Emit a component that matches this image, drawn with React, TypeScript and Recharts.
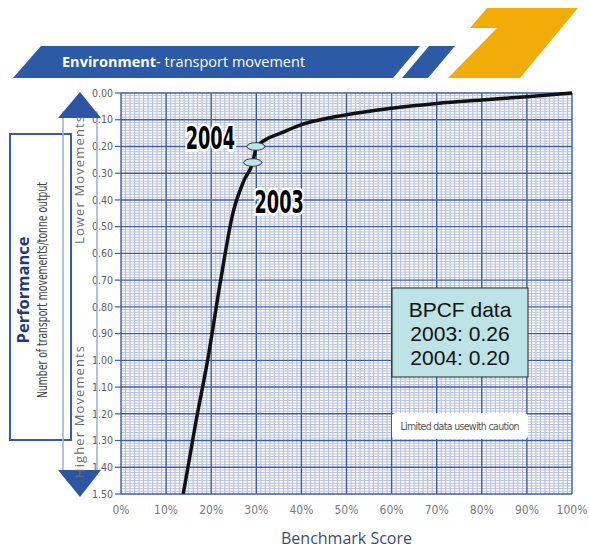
import {
  CartesianGrid,
  ComposedChart,
  Label,
  LabelList,
  Line,
  ReferenceLine,
  Scatter,
  XAxis,
  YAxis,
} from "recharts";

// benchmark curve
const CURVE_SCORE = [13.8, 16.5, 19.2, 22.1, 24.8, 27.2, 29.2, 29.9, 30.8, 32.3, 35.4, 40, 45, 50, 60, 70, 80, 90, 100];
const CURVE_MOVES = [1.5, 1.24, 1.0, 0.7, 0.45, 0.33, 0.26, 0.21, 0.19, 0.172, 0.15, 0.118, 0.097, 0.081, 0.057, 0.039, 0.026, 0.014, 0.0];

// BPCF markers
const MARKER_YEARS = ["2004", "2003"];
const MARKER_SCORE = [29.9, 29.2];
const MARKER_MOVES = [0.2, 0.26];

const X_TICKS = [0, 10, 20, 30, 40, 50, 60, 70, 80, 90, 100];
const Y_TICKS = [0, 0.1, 0.2, 0.3, 0.4, 0.5, 0.6, 0.7, 0.8, 0.9, 1.0, 1.1, 1.2, 1.3, 1.4, 1.5];
// graph paper: 1% columns, 0.01 rows
const MINOR_X = Array.from({ length: 99 }, (_, i) => i + 1).filter((v) => v % 10 !== 0);
const MINOR_Y = Array.from({ length: 149 }, (_, i) => (i + 1) / 100).filter((_, i) => (i + 1) % 10 !== 0);

const BOX_LINES = ["BPCF data", "2003: 0.26", "2004: 0.20"];

const curve = CURVE_SCORE.map((x, i) => ({ x, y: CURVE_MOVES[i] }));
const markers = MARKER_YEARS.map((year, i) => ({ year, x: MARKER_SCORE[i], y: MARKER_MOVES[i] }));

const MAJOR = "#3a5ca8";
const NARROW = "'Liberation Sans Narrow', 'DejaVu Sans Condensed', sans-serif";

const Ellipse = (props: any) => (
  <ellipse cx={props.cx} cy={props.cy} rx={9} ry={3.8} fill="#bfe5ea" stroke="#1d2a3a" strokeWidth={0.9} />
);

const YearLabel = (props: any) => {
  const { x, y, value, index } = props;
  // 2004 sits to the upper left of its marker, 2003 below right
  const dx = index === 0 ? -41 : 31;
  const dy = index === 0 ? -4 : 44;
  return (
    <text
      transform={`translate(${x + dx},${y + dy}) scale(0.82,1.35)`}
      textAnchor="middle"
      dominantBaseline="central"
      fontFamily={NARROW}
      fontWeight={700}
      fontSize={24}
      fill="#000"
      stroke="#fff"
      strokeWidth={4}
      paintOrder="stroke"
    >
      {value}
    </text>
  );
};

export default function App() {
  return (
    <div style={{ position: "absolute", left: 0, top: 0, width: 589, height: 550, background: "#fff" }}>
      <ComposedChart width={589} height={550} data={curve} margin={{ top: 93, right: 17, bottom: 0, left: 70 }}>
        {MINOR_X.map((v) => (
          <ReferenceLine key={`mx${v}`} x={v} stroke="#b0bbdd" strokeWidth={1} zIndex={-150} />
        ))}
        {MINOR_Y.map((v) => (
          <ReferenceLine key={`my${v}`} y={v} stroke="#bac1d9" strokeWidth={1} zIndex={-150} />
        ))}
        <CartesianGrid stroke={MAJOR} strokeWidth={1.4} />
        <XAxis
          dataKey="x"
          type="number"
          domain={[0, 100]}
          ticks={X_TICKS}
          interval={0}
          tickFormatter={(v) => `${v}%`}
          tickLine={false}
          axisLine={false}
          tickMargin={5}
          height={56}
          tick={{ fill: "#7a7a7a", fontSize: 12, fontFamily: NARROW }}
        >
          <Label
            content={({ viewBox }: any) => (
              <text
                x={viewBox.x + viewBox.width / 2}
                y={viewBox.y + 50}
                textAnchor="middle"
                fontFamily="'Open Sans', sans-serif"
                fontSize={16}
                fill="#3b4b7c"
              >
                Benchmark Score
              </text>
            )}
          />
        </XAxis>
        <YAxis
          dataKey="y"
          type="number"
          domain={[0, 1.5]}
          ticks={Y_TICKS}
          interval={0}
          reversed
          width={51}
          tickFormatter={(v) => v.toFixed(2)}
          tickSize={6}
          tickMargin={2}
          tickLine={{ stroke: MAJOR, strokeWidth: 1.2 }}
          axisLine={false}
          tick={{ fill: "#606060", fontSize: 10.5, fontFamily: NARROW }}
        />
        <Line
          type="monotone"
          dataKey="y"
          stroke="#111"
          strokeWidth={3.5}
          dot={false}
          isAnimationActive={false}
        />
        <Scatter data={markers} dataKey="y" shape={Ellipse} isAnimationActive={false}>
          <LabelList dataKey="year" content={YearLabel} />
        </Scatter>
      </ComposedChart>

      <svg width={589} height={550} style={{ position: "absolute", left: 0, top: 0, pointerEvents: "none" }}>
        {/* header banner */}
        <polygon points="13,78 41,46 420,46 393,78" fill="#2c5aa7" />
        <polygon points="402,78 429,46 455,46 428,78" fill="#2c5aa7" />
        <polygon points="487,8 578,8 520,78 448,78 497,28 470,28" fill="#f2ac0a" />
        <text x={62} y={67} fill="#fff" fontFamily="'Open Sans', sans-serif" fontSize={14.5}>
          <tspan fontWeight={700}>Environment</tspan>
          <tspan>- transport movement</tspan>
        </text>

        {/* left panel */}
        <rect x={10} y={134} width={61} height={306} fill="none" stroke={MAJOR} strokeWidth={2} />
        <rect x={63} y={112} width={34} height={362} fill="none" stroke="#9aaed6" strokeWidth={1.5} />
        <polygon points="58,118 101,118 80,92" fill="#2c56a3" />
        <polygon points="58,470 101,470 80,497" fill="#2c56a3" />
        <text
          transform="translate(84,180) rotate(-90)"
          textAnchor="middle"
          fontFamily="'Open Sans', sans-serif"
          fontSize={13}
          fill="#707070"
          textLength={128}
        >
          Lower  Movements
        </text>
        <text
          transform="translate(84,412) rotate(-90)"
          textAnchor="middle"
          fontFamily="'Open Sans', sans-serif"
          fontSize={13}
          fill="#707070"
          textLength={132}
        >
          Higher Movements
        </text>
        <text
          transform="translate(29,290) rotate(-90)"
          textAnchor="middle"
          fontFamily="'Open Sans', sans-serif"
          fontWeight={700}
          fontSize={16.5}
          fill="#1f3a78"
        >
          Performance
        </text>
        <text
          transform="translate(47,290) rotate(-90)"
          textAnchor="middle"
          fontFamily={NARROW}
          fontSize={14.5}
          fill="#444"
          textLength={216}
          lengthAdjust="spacingAndGlyphs"
        >
          Number of transport movements/tonne output
        </text>

        {/* data box */}
        <rect x={392} y={288} width={136} height={89} fill="#bde3e7" stroke="#222" strokeWidth={1} />
        {BOX_LINES.map((line, i) => (
          <text
            key={line}
            x={460}
            y={317 + i * 24}
            textAnchor="middle"
            fontFamily="'Liberation Sans', Arial, sans-serif"
            fontSize={21}
            fill="#111"
          >
            {line}
          </text>
        ))}

        <rect x={392} y={413} width={136} height={26} rx={4} fill="#fff" />
        <text x={460} y={430} textAnchor="middle" fontFamily={NARROW} fontSize={10.5} fill="#555" textLength={119}>
          Limited data usewith caution
        </text>
      </svg>
    </div>
  );
}
